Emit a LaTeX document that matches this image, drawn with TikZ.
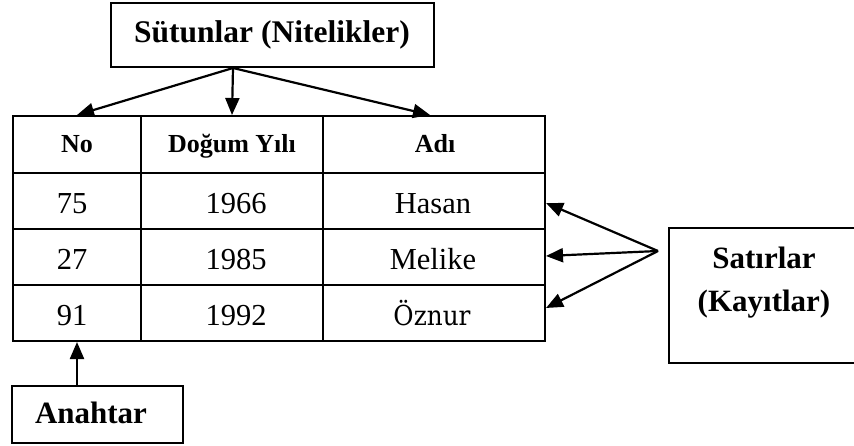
\documentclass[tikz,border=0pt]{standalone}
\usepackage{fontspec}
\setmainfont{Liberation Serif}
\newfontfamily\altserif[FakeStretch=0.9]{DejaVu Serif}
\usetikzlibrary{arrows.meta}
\begin{document}
\begin{tikzpicture}[x=1pt,y=-1pt,
  frame/.style={draw, line width=2pt, inner sep=0pt, rectangle},
  hdrtxt/.style={anchor=base, inner sep=0pt, font=\fontsize{26}{30}\selectfont\bfseries},
  valtxt/.style={anchor=base, inner sep=0pt, font=\fontsize{30.5}{36}\selectfont},
  boxtxt/.style={anchor=base, inner sep=0pt, font=\fontsize{31}{37}\selectfont\bfseries},
  arr/.style={line width=2.2pt, -{Triangle[length=17pt,width=14pt]}}]
\useasboundingbox (0,0) rectangle (854,446);

% table cells: row/column grid
\foreach \r/\yc/\h in {1/144.5/57, 2/201/56, 3/257/56, 4/313/56}
  \foreach \c/\xc/\w in {1/77/128, 2/232/182, 3/434/222}
    \node[frame, minimum width=\w pt, minimum height=\h pt] (c\r\c) at (\xc,\yc) {};

% header row
\node[hdrtxt] (h1) at (77,153) {No};
\node[hdrtxt] (h2) at (232,153) {Doğum Yılı};
\node[hdrtxt] (h3) at (435,153) {Adı};

% records
\node[valtxt] (v21) at (72,214) {75};
\node[valtxt] (v22) at (236,214) {1966};
\node[valtxt] (v23) at (433,214) {Hasan};
\node[valtxt] (v31) at (72,270) {27};
\node[valtxt] (v32) at (236,270) {1985};
\node[valtxt] (v33) at (433,270) {Melike};
\node[valtxt] (v41) at (72,326) {91};
\node[valtxt] (v42) at (236,326) {1992};
\node[valtxt, font=\fontsize{27.5}{32}\altserif] (v43) at (432,326) {Öznur};

% columns label
\node[frame, minimum width=323pt, minimum height=64pt] (cols) at (272.5,35) {};
\node[boxtxt, font=\fontsize{31.5}{38}\selectfont\bfseries] (colstxt) at (272,43) {Sütunlar (Nitelikler)};

% rows label (runs past the right edge)
\node[frame, minimum width=200pt, minimum height=135pt] (rows) at (769,295.5) {};
\node[boxtxt] (rowstxt1) at (764,269) {Satırlar};
\node[boxtxt] (rowstxt2) at (764,312) {(Kayıtlar)};

% key label
\node[frame, minimum width=171pt, minimum height=57pt] (key) at (97.5,414.5) {};
\node[boxtxt] (keytxt) at (91,423) {Anahtar};

% connectors
\coordinate (src) at ([xshift=-39.5pt]cols.south);
\draw[arr] (src) -- (c11.north);
\draw[arr] (src) -- (c12.north);
\draw[arr] (src) -- ([xshift=-4pt]c13.north);

\coordinate (fan) at ([shift={(-10pt,44.5pt)}]rows.west);
\draw[arr] (fan) -- ([yshift=-2pt]c23.east);
\draw[arr] (fan) -- ([yshift=1pt]c33.east);
\draw[arr] (fan) -- ([yshift=5pt]c43.east);

\draw[arr] (key.north -| c41.south) -- (c41.south);
\end{tikzpicture}
\end{document}
